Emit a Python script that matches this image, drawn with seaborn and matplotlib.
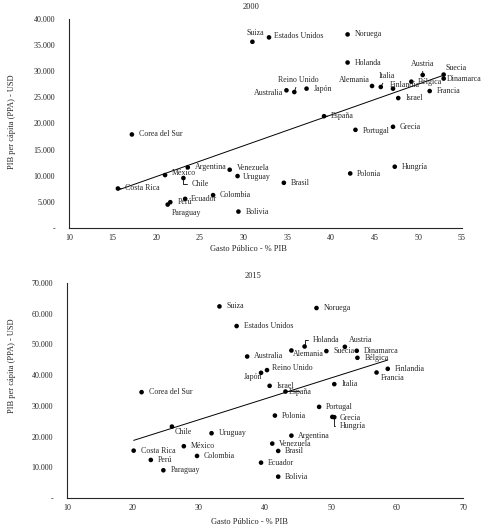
import numpy as np
import pandas as pd
import matplotlib
matplotlib.use("Agg")
import matplotlib.pyplot as plt
from matplotlib.ticker import FuncFormatter, MultipleLocator
import seaborn as sns

countries = ["Suiza", "Estados Unidos", "Noruega", "Holanda", "Austria", "Suecia",
             "Dinamarca", "Bélgica", "Francia", "Finlandia", "Italia", "Alemania",
             "Israel", "Reino Unido", "Australia", "Japón", "España", "Portugal",
             "Grecia", "Hungría", "Polonia", "Brasil", "Corea del Sur", "Costa Rica",
             "México", "Argentina", "Chile", "Ecuador", "Perú", "Paraguay",
             "Colombia", "Venezuela", "Uruguay", "Bolivia"]

gasto_2000 = [31.0, 32.9, 41.9, 41.9, 50.5, 52.9, 52.9, 49.2, 51.3, 47.1, 45.7, 44.7,
              47.7, 35.8, 34.9, 37.2, 39.2, 42.8, 47.1, 47.3, 42.2, 34.6, 17.2, 15.6,
              21.0, 23.6, 23.1, 23.3, 21.6, 21.3, 26.5, 28.4, 29.3, 29.4]
pib_2000 = [35640, 36480, 37050, 31670, 29290, 29360, 28600, 28010, 26210, 26670,
            26990, 27180, 24870, 26020, 26350, 26670, 21400, 18790, 19370, 11730,
            10440, 8650, 17900, 7560, 10130, 11600, 9560, 5580, 4940, 4490, 6290,
            11150, 9940, 3140]

gasto_2015 = [33.1, 35.7, 47.8, 46.0, 52.1, 49.3, 53.9, 54.0, 56.9, 58.6, 50.5, 44.0,
              40.7, 40.3, 37.3, 39.4, 43.1, 48.2, 50.2, 50.5, 41.5, 42.0, 21.3, 20.1,
              27.7, 44.0, 25.9, 39.4, 22.7, 24.6, 29.7, 41.1, 31.9, 42.0]
pib_2015 = [62380, 55980, 61850, 49330, 49230, 47830, 47930, 45650, 40860, 42060,
            37070, 48030, 36520, 41640, 46070, 40760, 34660, 29670, 26410, 26310,
            26840, 15320, 34460, 15420, 16860, 20310, 23250, 11510, 12390, 9030,
            13690, 17710, 21090, 6950]

# label placement: offset in pixels, alignment, leader line (None, "line", "elbow")
lab_2000 = {
    "Suiza": (3, 9, "center", None), "Estados Unidos": (5, 1, "left", None),
    "Austria": (0, 11, "center", "line"), "Suecia": (2, 7, "left", None),
    "Dinamarca": (3, 0, "left", None), "Bélgica": (6, 0, "left", None),
    "Finlandia": (-3, 4, "left", None), "Italia": (6, 11, "center", "line"),
    "Alemania": (-2, 6, "right", None), "Reino Unido": (4, 12, "center", "line"),
    "Australia": (-3, -3, "right", None), "España": (7, 0, "left", "line"),
    "Portugal": (7, -1, "left", None), "Polonia": (7, -1, "left", None),
    "Costa Rica": (7, 0, "left", "line"), "México": (7, 2, "left", None),
    "Chile": (8, -6, "left", "elbow"), "Ecuador": (6, 0, "left", None),
    "Paraguay": (4, -8, "left", None), "Venezuela": (7, 2, "left", None),
    "Uruguay": (5, -1, "left", None),
}
lab_2015 = {
    "Holanda": (8, 6, "left", "elbow"), "Austria": (4, 7, "left", None),
    "Alemania": (2, -4, "left", None), "Francia": (4, -5, "left", None),
    "Reino Unido": (5, 2, "left", None), "Japón": (1, -4, "right", None),
    "España": (3, 0, "left", "line"), "Grecia": (7, -1, "left", None),
    "Hungría": (5, -9, "left", "elbow"), "Chile": (3, -5, "left", None),
}

sns.set_style("white")
plt.rcParams["font.family"] = ["Liberation Serif", "DejaVu Serif"]
plt.rcParams["axes.linewidth"] = 0.8


def miles(v, pos):
    if abs(v) < 1e-9:
        return "-"
    return f"{v:,.0f}".replace(",", ".")


def panel(ax, x, y, labels, xmax, ymax, xstep, ystep):
    df = pd.DataFrame({"pais": countries, "gasto": x, "pib": y})
    sns.regplot(data=df, x="gasto", y="pib", scatter=False, ci=None, truncate=True,
                color="black", line_kws={"linewidth": 0.7}, ax=ax)
    sns.scatterplot(data=df, x="gasto", y="pib", color="black", s=11,
                    edgecolor="none", ax=ax, zorder=3)
    for _, r in df.iterrows():
        dx, dy, ha, leader = labels.get(r["pais"], (7, 0, "left", None))
        arrow = None
        if leader == "line":
            arrow = dict(arrowstyle="-", lw=0.6, color="black", shrinkA=0, shrinkB=0)
        elif leader == "elbow":
            arrow = dict(arrowstyle="-", lw=0.6, color="black", shrinkA=1, shrinkB=0,
                         relpos=(0, 0.5), connectionstyle="angle,angleA=0,angleB=90,rad=0")
        ax.annotate(r["pais"], (r["gasto"], r["pib"]), xytext=(dx, dy),
                    textcoords="offset pixels", ha=ha, va="center", fontsize=5.7,
                    arrowprops=arrow)
    ax.set_xlim(10, xmax)
    ax.set_ylim(0, ymax)
    ax.xaxis.set_major_locator(MultipleLocator(xstep))
    ax.yaxis.set_major_locator(MultipleLocator(ystep))
    ax.yaxis.set_major_formatter(FuncFormatter(miles))
    ax.tick_params(length=0, labelsize=5.8, pad=4)
    ax.tick_params(axis="y", pad=10)
    ax.set_xlabel("")
    ax.set_ylabel("")
    sns.despine(ax=ax)


fig = plt.figure(figsize=(4.89, 5.30), dpi=100)
W, H = 489, 530
ax1 = fig.add_axes([69 / W, 1 - 228 / H, (462 - 69) / W, (228 - 19) / H])
ax2 = fig.add_axes([67 / W, 1 - 498 / H, (463 - 67) / W, (498 - 283) / H])

panel(ax1, gasto_2000, pib_2000, lab_2000, 55, 40000, 5, 5000)
panel(ax2, gasto_2015, pib_2015, lab_2015, 70, 70000, 10, 10000)

fig.text(251 / W, 1 - 7 / H, "2000", ha="center", va="center", fontsize=6)
fig.text(253 / W, 1 - 276 / H, "2015", ha="center", va="center", fontsize=6)
fig.text(248 / W, 1 - 249 / H, "Gasto Público - % PIB", ha="center", va="center", fontsize=6)
fig.text(249 / W, 1 - 522 / H, "Gasto Público - % PIB", ha="center", va="center", fontsize=6)
fig.text(12 / W, 1 - 122 / H, "PIB per cápita (PPA) - USD", ha="center", va="center",
         rotation=90, fontsize=6)
fig.text(12 / W, 1 - 366 / H, "PIB per cápita (PPA) - USD", ha="center", va="center",
         rotation=90, fontsize=6)

fig.savefig("out.png", dpi=100, facecolor="white")
